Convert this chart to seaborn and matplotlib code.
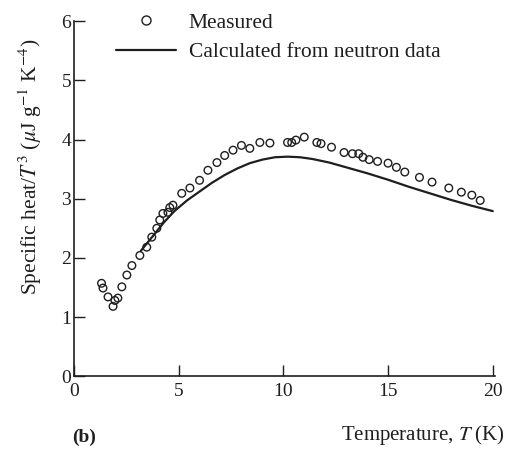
import matplotlib
matplotlib.use("Agg")
import matplotlib.pyplot as plt
import seaborn as sns
import pandas as pd
from matplotlib.lines import Line2D

# measured specific heat / T^3
measured_T = [1.32, 1.39, 1.63, 1.87, 1.96, 2.10, 2.29, 2.53, 2.77, 3.15, 3.48, 3.72,
              3.96, 4.10, 4.25, 4.49, 4.58, 4.73, 5.15, 5.54, 6.00, 6.40, 6.83, 7.20,
              7.60, 8.00, 8.40, 8.88, 9.36, 10.2, 10.4, 10.6, 11.0, 11.6, 11.8, 12.3,
              12.9, 13.3, 13.6, 13.8, 14.1, 14.5, 15.0, 15.4, 15.8, 16.5, 17.1, 17.9,
              18.5, 19.0, 19.4]
measured_C = [1.57, 1.49, 1.34, 1.18, 1.28, 1.32, 1.51, 1.71, 1.87, 2.04, 2.18, 2.35,
              2.50, 2.64, 2.75, 2.77, 2.85, 2.89, 3.09, 3.18, 3.31, 3.48, 3.61, 3.73,
              3.82, 3.90, 3.85, 3.95, 3.94, 3.95, 3.95, 3.99, 4.04, 3.95, 3.93, 3.87,
              3.78, 3.76, 3.76, 3.70, 3.66, 3.63, 3.60, 3.53, 3.45, 3.36, 3.28, 3.18,
              3.11, 3.06, 2.97]

# curve calculated from neutron data
calc_T = [3.2, 3.8, 4.3, 4.8, 5.4, 6.0, 6.6, 7.2, 7.8, 8.4, 9.0, 9.6, 10.2, 10.8,
          11.4, 12.2, 13.0, 14.0, 15.0, 16.0, 17.0, 18.0, 19.0, 20.0]
calc_C = [2.12, 2.38, 2.60, 2.79, 2.97, 3.12, 3.27, 3.40, 3.51, 3.60, 3.66, 3.70,
          3.71, 3.70, 3.67, 3.61, 3.53, 3.43, 3.32, 3.20, 3.09, 2.98, 2.88, 2.79]

x_ticks = [0, 5, 10, 15, 20]
y_ticks = [0, 1, 2, 3, 4, 5, 6]

sns.set_theme(style="ticks")
plt.rcParams['font.family'] = ['Liberation Serif', 'DejaVu Serif']
plt.rcParams['mathtext.fontset'] = 'stix'

ink = "#1e1e1e"

df_meas = pd.DataFrame({"T": measured_T, "C": measured_C})
df_calc = pd.DataFrame({"T": calc_T, "C": calc_C})

fig = plt.figure(figsize=(5.06, 4.5), dpi=100)
ax = fig.add_axes([0.146, 0.164, 0.832, 0.789])

sns.lineplot(data=df_calc, x="T", y="C", ax=ax, color=ink, lw=1.6, sort=False)
sns.scatterplot(data=df_meas, x="T", y="C", ax=ax, marker="o", s=30,
                facecolor="none", edgecolor=ink, linewidth=1.0)

ax.set_xlim(0, 20.1)
ax.set_ylim(0, 6.0)
ax.set_xticks(x_ticks)
ax.set_yticks(y_ticks)
ax.tick_params(direction="in", length=8, width=1.0, colors=ink, labelsize=14,
               labelcolor=ink)
ax.tick_params(axis="x", pad=5)
ax.tick_params(axis="y", pad=2)
sns.despine(ax=ax)
for s in ["left", "bottom"]:
    ax.spines[s].set_color(ink)
    ax.spines[s].set_linewidth(1.2)

ax.set_xlabel("")
ax.set_ylabel(r"Specific heat/$T^3$ ($\mu$J g$^{-1}$ K$^{-4}$)", fontsize=15.5,
              color=ink)
ax.yaxis.set_label_coords(-0.072, 0.59)

fig.text(0.998, 0.006, r"Temperature, $T$ (K)", ha="right", va="bottom",
         fontsize=15, color=ink)
fig.text(0.143, 0.01, "(b)", ha="left", va="bottom", fontsize=14,
         color=ink, fontweight="bold")

handles = [
    Line2D([], [], marker="o", ls="none", markersize=6.5, markerfacecolor="none",
           markeredgecolor=ink, markeredgewidth=1.0),
    Line2D([], [], color=ink, lw=1.6),
]
fig.legend(handles, ["Measured", "Calculated from neutron data"],
           loc="upper left", bbox_to_anchor=(0.19, 1.015), frameon=False,
           fontsize=15.5, handlelength=2.8, handletextpad=0.6, labelspacing=0.45,
           labelcolor=ink)

fig.savefig("out.png", dpi=100, facecolor="white")
